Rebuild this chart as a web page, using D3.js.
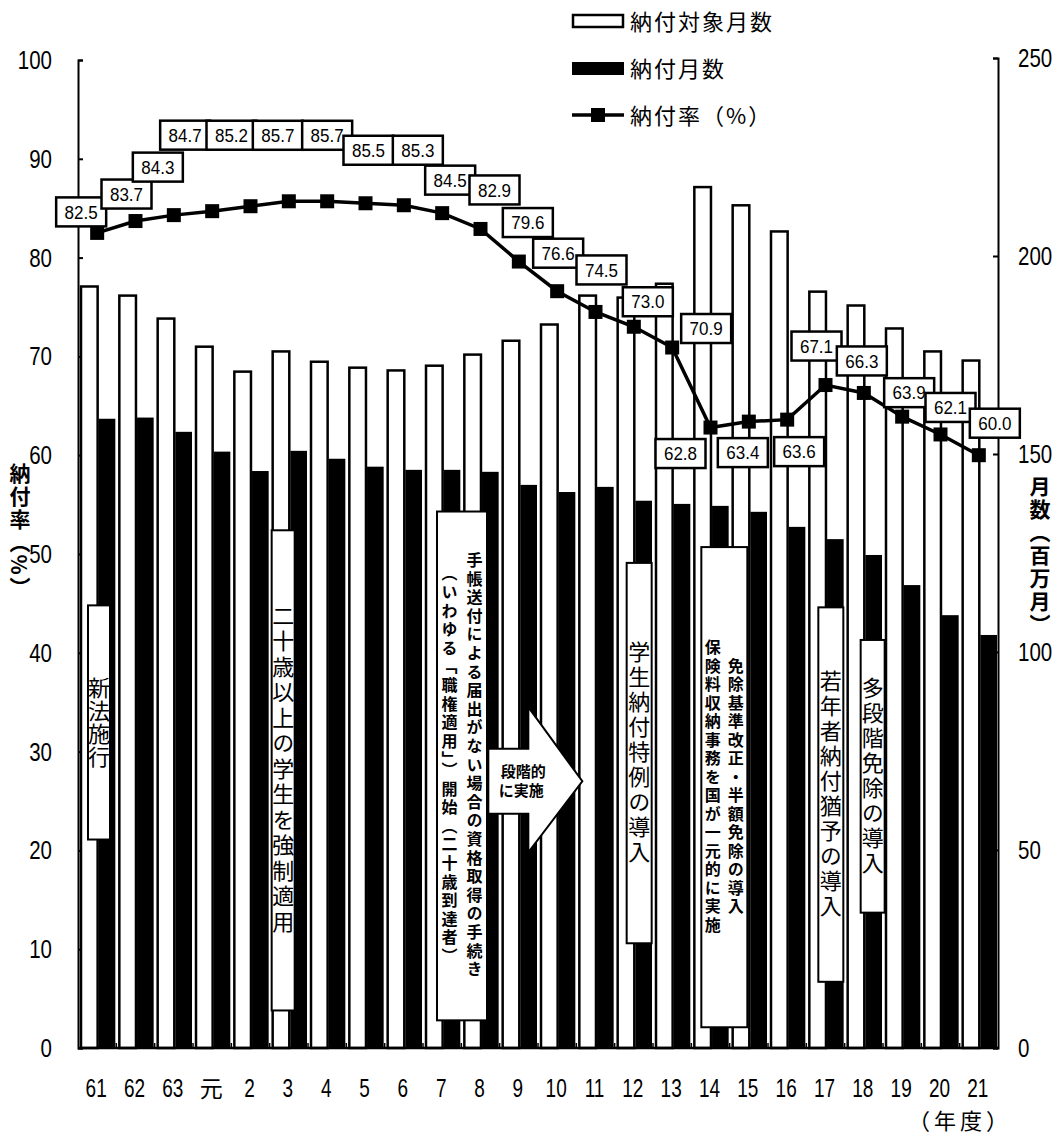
<!DOCTYPE html>
<html>
<head>
<meta charset="utf-8">
<script src="https://cdn.jsdelivr.net/npm/d3@7"></script>
<style>
  body { margin: 0; background: #fff; }
  svg { display: block; }
  .num { font-family: "Liberation Sans", Arial, sans-serif; }
  .jp { font-family: "Noto Sans CJK JP", sans-serif; }
</style>
</head>
<body>
<svg width="1064" height="1136"></svg>
<script>
const svg = d3.select("svg");

// 年度
const years = ["61", "62", "63", "元", "2", "3", "4", "5", "6", "7", "8", "9", "10",
  "11", "12", "13", "14", "15", "16", "17", "18", "19", "20", "21"];
// 納付対象月数（百万月）
const targetMonths = [192.3, 190.0, 184.2, 177.1, 170.8, 175.9, 173.3, 171.8, 171.1, 172.3, 175.1, 178.6,
  182.7, 190.0, 189.5, 193.0, 217.4, 212.8, 206.2, 191.0, 187.5, 181.7, 175.9, 173.6];
// 納付月数（百万月）
const paidMonths = [158.9, 159.2, 155.6, 150.6, 145.7, 150.8, 148.8, 146.8, 146.0, 146.0, 145.5, 142.2,
  140.4, 141.7, 138.2, 137.4, 136.9, 135.4, 131.6, 128.5, 124.5, 116.9, 109.3, 104.3];
// 納付率（%）
const paymentRate = [82.5, 83.7, 84.3, 84.7, 85.2, 85.7, 85.7, 85.5, 85.3, 84.5, 82.9, 79.6,
  76.6, 74.5, 73.0, 70.9, 62.8, 63.4, 63.6, 67.1, 66.3, 63.9, 62.1, 60.0];
const leftTicks = [0, 10, 20, 30, 40, 50, 60, 70, 80, 90, 100];
const rightTicks = [0, 50, 100, 150, 200, 250];

// where each value box sits, relative to its point (px)
const labelOffset = [[-16,-21],[-9,-27],[-16,-48],[-27,-76],[-19,-71],[-11,-66],[0,-66],[3,-53],
  [14,-55],[8,-33],[14,-39],[9,-39],[1,-38],[6,-42],[14,-25],[34,-19],[-30,26],[-6,31],[12,32],
  [-9,-39],[-2,-32],[7,-24],[10,-27],[16,-32]];

const plotLeft = 78, plotRight = 998, plotTop = 60, plotBottom = 1048;

const x = d3.scaleBand().domain(years).range([plotLeft, plotRight]);
const xSub = d3.scaleBand().domain(["target", "paid"]).range([3, x.bandwidth() - 1]).paddingInner(0.06);
const yL = d3.scaleLinear().domain([0, 100]).range([plotBottom, plotTop]);
const yR = d3.scaleLinear().domain([0, 250]).range([plotBottom, plotTop - 2]);

// axes first so the value boxes sit on top of them
const axisL = svg.append("g").attr("transform", `translate(${plotLeft},0)`)
  .call(d3.axisRight(yL).tickValues(leftTicks).tickSize(5).tickFormat(""));
const axisR = svg.append("g").attr("transform", `translate(${plotRight},0)`)
  .call(d3.axisLeft(yR).tickValues(rightTicks).tickSize(5).tickFormat(""));
[axisL, axisR].forEach((a) => {
  a.select(".domain").attr("stroke-width", 2);
  a.selectAll("line").attr("stroke-width", 2);
});

// bars
svg.append("g").selectAll("rect")
  .data(years)
  .enter().append("rect")
  .attr("x", (d) => x(d) + xSub("target"))
  .attr("y", (d, i) => yR(targetMonths[i]))
  .attr("width", xSub.bandwidth())
  .attr("height", (d, i) => yR(0) - yR(targetMonths[i]))
  .attr("fill", "#fff")
  .attr("stroke", "#000")
  .attr("stroke-width", 2.5);

svg.append("g").selectAll("rect")
  .data(years)
  .enter().append("rect")
  .attr("x", (d) => x(d) + xSub("paid"))
  .attr("y", (d, i) => yR(paidMonths[i]))
  .attr("width", xSub.bandwidth())
  .attr("height", (d, i) => yR(0) - yR(paidMonths[i]))
  .attr("fill", "#000");

// annotation boxes (vertical text)
const notes = [
  { year: "61", dx: 10, w: 22, from: 44.8, to: 21.1, cols: ["新法施行"], size: 22, weight: 400, ls: 1 },
  { year: "3", dx: 2, w: 23, from: 52.4, to: 3.8, cols: ["二十歳以上の学生を強制適用"], size: 22, weight: 400, ls: 3.5 },
  { year: "7", dx: 14, w: 50, from: 54.3, to: 2.8,
    cols: ["手帳送付による届出がない場合の資格取得の手続き", "（いわゆる「職権適用」）開始（二十歳到達者）"], size: 16, weight: 700, ls: 2.6 },
  { year: "12", dx: 12, w: 25, from: 49.1, to: 10.6, cols: ["学生納付特例の導入"], size: 22, weight: 400, ls: 3 },
  { year: "14", dx: 10, w: 46, from: 50.7, to: 2.1,
    cols: ["免除基準改正・半額免除の導入", "保険料収納事務を国が一元的に実施"], size: 16, weight: 700, ls: 2.5 },
  { year: "17", dx: 12, w: 25, from: 44.6, to: 6.7, cols: ["若年者納付猶予の導入"], size: 22, weight: 400, ls: 3 },
  { year: "18", dx: 16, w: 24, from: 41.3, to: 13.7, cols: ["多段階免除の導入"], size: 22, weight: 400, ls: 3 }
];

const noteG = svg.append("g");
notes.forEach((n) => {
  const x0 = x(n.year) + n.dx;
  noteG.append("rect")
    .attr("x", x0).attr("y", yL(n.from))
    .attr("width", n.w).attr("height", yL(n.to) - yL(n.from))
    .attr("fill", "#fff").attr("stroke", "#000").attr("stroke-width", 2);
  const colW = n.w / n.cols.length;
  n.cols.forEach((c, k) => {
    noteG.append("text")
      .attr("class", "jp")
      .attr("x", x0 + n.w - colW * (k + 0.5))
      .attr("y", (yL(n.from) + yL(n.to)) / 2)
      .attr("text-anchor", "middle")
      .style("writing-mode", "vertical-rl")
      .style("font-size", n.size + "px")
      .style("font-weight", n.weight)
      .style("letter-spacing", n.ls + "px")
      .text(c);
  });
});

// arrow: 段階的に実施
const ax = x("8");
const arrowPts = [
  [ax + 27, yL(30.3)], [ax + 67, yL(30.3)], [ax + 67, yL(34.5)], [ax + 121, yL(27.0)],
  [ax + 67, yL(19.8)], [ax + 67, yL(23.7)], [ax + 27, yL(23.7)]
];
noteG.append("path")
  .attr("d", d3.line()(arrowPts) + "Z")
  .attr("fill", "#fff").attr("stroke", "#000").attr("stroke-width", 2);
noteG.append("text").attr("class", "jp")
  .attr("x", ax + 62).attr("y", yL(27.0) - 4)
  .attr("text-anchor", "middle").style("font-size", "15px").style("font-weight", 700)
  .text("段階的");
noteG.append("text").attr("class", "jp")
  .attr("x", ax + 60).attr("y", yL(27.0) + 15)
  .attr("text-anchor", "middle").style("font-size", "15px").style("font-weight", 700)
  .text("に実施");

// line 納付率
const cx = (d) => x(d) + x.bandwidth() / 2;
svg.append("path")
  .datum(years)
  .attr("d", d3.line().x(cx).y((d, i) => yL(paymentRate[i])))
  .attr("fill", "none")
  .attr("stroke", "#000")
  .attr("stroke-width", 3.5);

svg.append("g").selectAll("rect")
  .data(years)
  .enter().append("rect")
  .attr("x", (d) => cx(d) - 7)
  .attr("y", (d, i) => yL(paymentRate[i]) - 7)
  .attr("width", 14).attr("height", 14)
  .attr("fill", "#000");

// value boxes
const lab = svg.append("g").selectAll("g")
  .data(years)
  .enter().append("g")
  .attr("transform", (d, i) => `translate(${cx(d) + labelOffset[i][0]},${yL(paymentRate[i]) + labelOffset[i][1]})`);
lab.append("rect")
  .attr("x", -25).attr("y", -14.5).attr("width", 50).attr("height", 29)
  .attr("fill", "#fff").attr("stroke", "#000").attr("stroke-width", 2.5);
lab.append("text")
  .attr("text-anchor", "middle").attr("dy", "0.36em")
  .attr("transform", "scale(0.92,1)")
  .style("font-family", "'Liberation Sans', Arial, sans-serif")
  .style("font-size", "18.5px")
  .text((d, i) => paymentRate[i].toFixed(1));

// condensed numerals
svg.append("g").selectAll("text")
  .data(leftTicks)
  .enter().append("text")
  .attr("class", "num")
  .attr("transform", (d) => `translate(52,${yL(d)}) scale(0.82,1)`)
  .attr("dy", "0.36em")
  .attr("text-anchor", "end")
  .style("font-size", "25px")
  .text((d) => d);

svg.append("g").selectAll("text")
  .data(rightTicks)
  .enter().append("text")
  .attr("class", "num")
  .attr("transform", (d) => `translate(1018,${yR(d)}) scale(0.82,1)`)
  .attr("dy", "0.36em")
  .style("font-size", "25px")
  .text((d) => d);

// baseline and category ticks
svg.append("line")
  .attr("x1", plotLeft).attr("x2", plotRight).attr("y1", plotBottom).attr("y2", plotBottom)
  .attr("stroke", "#000").attr("stroke-width", 2.5);
svg.append("g").selectAll("line")
  .data(years.slice(1))
  .enter().append("line")
  .attr("x1", (d) => x(d)).attr("x2", (d) => x(d))
  .attr("y1", plotBottom).attr("y2", plotBottom - 5)
  .attr("stroke", "#000").attr("stroke-width", 1.5);

svg.append("g").selectAll("text")
  .data(years)
  .enter().append("text")
  .attr("class", (d) => d === "元" ? "jp" : "num")
  .attr("transform", (d) => `translate(${cx(d) - 1},1097) scale(${d === "元" ? 1 : 0.76},1)`)
  .attr("text-anchor", "middle")
  .style("font-size", (d) => d === "元" ? "23px" : "25px")
  .text((d) => d);

svg.append("text").attr("class", "jp")
  .attr("x", 960).attr("y", 1129).attr("text-anchor", "middle")
  .style("font-size", "22px").style("letter-spacing", "4px")
  .text("（年度）");

// axis titles
svg.append("text").attr("class", "jp")
  .attr("x", 20).attr("y", 531).attr("text-anchor", "middle")
  .style("writing-mode", "vertical-rl")
  .style("font-size", "21px").style("font-weight", 700).style("letter-spacing", "2px")
  .text("納付率（%）");
svg.append("text").attr("class", "jp")
  .attr("x", 1040).attr("y", 556).attr("text-anchor", "middle")
  .style("writing-mode", "vertical-rl")
  .style("font-size", "21px").style("font-weight", 700).style("letter-spacing", "2px")
  .text("月数（百万月）");

// legend
const lg = svg.append("g");
lg.append("rect").attr("x", 573).attr("y", 15).attr("width", 50).attr("height", 12)
  .attr("fill", "#fff").attr("stroke", "#000").attr("stroke-width", 2.5);
lg.append("rect").attr("x", 572).attr("y", 62).attr("width", 52).attr("height", 13).attr("fill", "#000");
lg.append("line").attr("x1", 572).attr("x2", 624).attr("y1", 115).attr("y2", 115)
  .attr("stroke", "#000").attr("stroke-width", 3.5);
lg.append("rect").attr("x", 591).attr("y", 108).attr("width", 14).attr("height", 14).attr("fill", "#000");
const legendText = ["納付対象月数", "納付月数", "納付率（%）"];
lg.selectAll("text")
  .data(legendText)
  .enter().append("text")
  .attr("class", "jp")
  .attr("x", 630).attr("y", (d, i) => 22 + i * 47).attr("dy", "0.36em")
  .style("font-size", "22px").style("letter-spacing", "2px")
  .text((d) => d);
</script>
</body>
</html>
